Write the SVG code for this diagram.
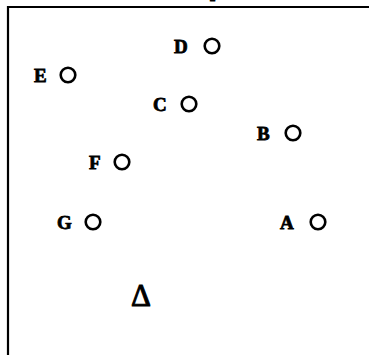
<svg xmlns="http://www.w3.org/2000/svg" width="369" height="355" viewBox="0 0 369 355">
<style>
.lbl{font-family:"Liberation Serif","DejaVu Serif",serif;font-weight:bold;font-size:19px;fill:#000;stroke:#000;stroke-width:0.8}
.pt{fill:none;stroke:#000;stroke-width:2.6}
</style>
<rect x="0" y="0" width="369" height="355" fill="#fff"/>
<g id="frame"><path d="M8 360 V7 H375" fill="none" stroke="#000" stroke-width="2.2"/></g>
<text class="lbl" x="210" y="-3" style="font-size:18px">p</text>
<g id="D"><text class="lbl" x="174" y="53">D</text><circle class="pt" cx="212" cy="46" r="7.3"/></g>
<g id="E"><text class="lbl" x="34" y="82">E</text><circle class="pt" cx="68" cy="75" r="7.3"/></g>
<g id="C"><text class="lbl" x="153" y="111">C</text><circle class="pt" cx="189" cy="104" r="7.3"/></g>
<g id="B"><text class="lbl" x="257" y="140">B</text><circle class="pt" cx="293" cy="133" r="7.3"/></g>
<g id="F"><text class="lbl" x="89" y="169">F</text><circle class="pt" cx="122" cy="162" r="7.3"/></g>
<g id="G"><text class="lbl" x="57" y="229">G</text><circle class="pt" cx="93" cy="222" r="7.3"/></g>
<g id="A"><text class="lbl" x="280" y="229">A</text><circle class="pt" cx="318" cy="222" r="7.3"/></g>
<g id="delta"><text class="lbl" x="131" y="306" style="font-size:31px;font-weight:normal;stroke-width:1">Δ</text></g>
<g id="connectors"></g>
</svg>
